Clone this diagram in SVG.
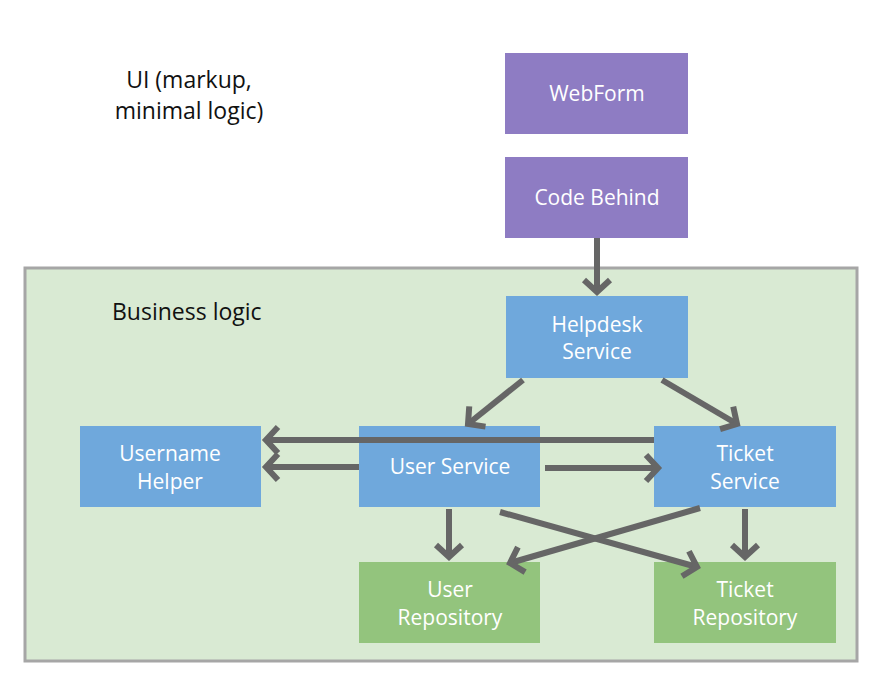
<svg xmlns="http://www.w3.org/2000/svg" width="877" height="677" viewBox="0 0 877 677">
<style>
.t{font-family:"Open Sans","Noto Sans",sans-serif;font-size:21px;fill:#fff;text-anchor:middle}
.k{font-family:"Open Sans","Noto Sans",sans-serif;font-size:23px;fill:#111}
.p{fill:#8e7cc3}
.b{fill:#6fa8dc}
.g{fill:#93c47d}
.c{stroke:#666;stroke-width:6;fill:none}
</style>
<defs>
<marker id="ah" markerUnits="userSpaceOnUse" markerWidth="32" markerHeight="32" viewBox="-16 -16 32 32" refX="0" refY="0" orient="auto">
<path d="M-12,-13 L0,0 L-12,13" fill="none" stroke="#666" stroke-width="6"/>
</marker>
</defs>
<rect width="877" height="677" fill="#fff"/>
<g id="container">
<rect x="25" y="268" width="832" height="393" fill="#d9ead3" stroke="#a6a6a6" stroke-width="3"/>
<text class="k" x="112" y="320">Business logic</text>
</g>
<g id="ui-label">
<text class="k" x="189" y="88" text-anchor="middle">UI (markup,</text>
<text class="k" x="189" y="119" text-anchor="middle">minimal logic)</text>
</g>
<g id="webform"><rect class="p" x="505" y="53" width="183" height="81"/><text class="t" x="597" y="101">WebForm</text></g>
<g id="codebehind"><rect class="p" x="505" y="157" width="183" height="81"/><text class="t" x="597" y="205">Code Behind</text></g>
<g id="helpdesk"><rect class="b" x="506" y="296" width="182" height="82"/><text class="t" x="597" y="332">Helpdesk</text><text class="t" x="597" y="359">Service</text></g>
<g id="username"><rect class="b" x="80" y="426" width="181" height="81"/><text class="t" x="170" y="461">Username</text><text class="t" x="170" y="489">Helper</text></g>
<g id="userservice"><rect class="b" x="359" y="426" width="181" height="81"/><text class="t" x="450" y="474">User Service</text></g>
<g id="ticketservice"><rect class="b" x="654" y="426" width="182" height="81"/><text class="t" x="745" y="461">Ticket</text><text class="t" x="745" y="489">Service</text></g>
<g id="userrepo"><rect class="g" x="359" y="562" width="181" height="81"/><text class="t" x="450" y="597">User</text><text class="t" x="450" y="625">Repository</text></g>
<g id="ticketrepo"><rect class="g" x="654" y="562" width="182" height="81"/><text class="t" x="745" y="597">Ticket</text><text class="t" x="745" y="625">Repository</text></g>
<g id="connectors">
<line class="c" x1="597" y1="238" x2="597" y2="292" marker-end="url(#ah)"/>
<line class="c" x1="523" y1="380" x2="468" y2="424" marker-end="url(#ah)"/>
<line class="c" x1="662" y1="380" x2="737" y2="424" marker-end="url(#ah)"/>
<line class="c" x1="654" y1="440" x2="266" y2="440" marker-end="url(#ah)"/>
<line class="c" x1="359" y1="467" x2="266" y2="467" marker-end="url(#ah)"/>
<line class="c" x1="545" y1="468" x2="658" y2="468" marker-end="url(#ah)"/>
<line class="c" x1="449" y1="509" x2="449" y2="557" marker-end="url(#ah)"/>
<line class="c" x1="745" y1="509" x2="745" y2="557" marker-end="url(#ah)"/>
<line class="c" x1="500" y1="512" x2="697" y2="567" marker-end="url(#ah)"/>
<line class="c" x1="700" y1="508" x2="510" y2="563" marker-end="url(#ah)"/>
</g>
</svg>
